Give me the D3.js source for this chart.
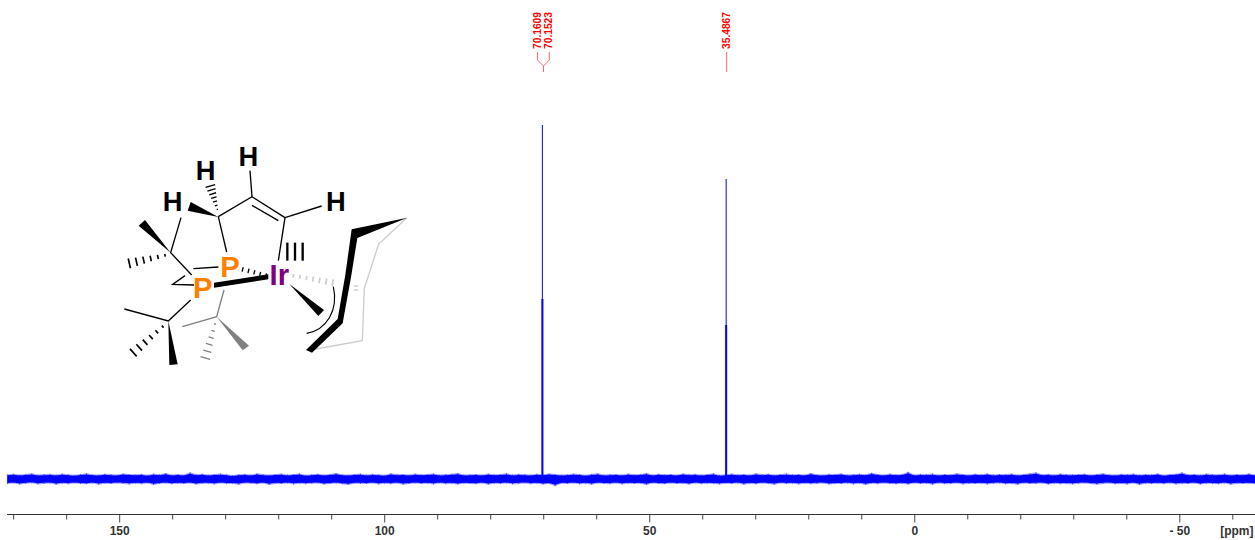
<!DOCTYPE html>
<html><head><meta charset="utf-8">
<script src="https://cdn.jsdelivr.net/npm/d3@7"></script>
<style>html,body{margin:0;padding:0;background:#fff}svg{display:block}text{font-family:"Liberation Sans",Arial,sans-serif}</style>
</head><body><svg id="c" width="1255" height="540"></svg>
<script>
// ---- data ----
const peakPpm = [70.1609, 70.1523, 35.4867, 35.4867];
const peakIntensity = [354, 180, 300, 154];
const peakLabels = ["70.1609", "70.1523", "35.4867"];
const majorTicks = [150, 100, 50, 0, -50];
const majorLabels = ["150", "100", "50", "0", "- 50"];
const minorTicks = [170,160,140,130,120,110,90,80,70,60,40,30,20,10,-10,-20,-30,-40,-60];
const ppmLeft = 171.2, ppmRight = -64.3;
const noiseUpper = [
4.6,5.2,4.4,4.9,5.6,4.3,4.8,5.1,4.5,5.4,4.7,4.2,5.0,5.7,4.6,4.4,
5.2,4.8,4.3,5.5,4.9,4.6,5.1,4.2,5.3,4.7,5.8,4.5,5.0,4.4,6.6,4.8,
5.2,4.3,4.9,5.4,4.6,3.9,4.7,5.1,4.4,5.6,4.8,4.3,5.0,5.3,4.5,4.9,
5.5,4.2,4.7,5.2,4.4,5.0,5.8,4.6,4.3,4.9,5.3,4.5,5.1,4.7,4.2,5.6,
4.8,5.0,4.4,5.3,4.6,4.9,5.5,4.3,4.8,5.2,5.9,4.5,4.7,5.0,4.3,5.4,
4.6,4.9,5.7,4.4,5.1,4.8,4.3,5.2,4.6,5.5,5.0,4.4,4.7,5.3,4.9,4.2,
5.1,5.6,4.5,4.8,5.0,4.3,5.4,4.7,4.9,5.8,4.4,5.2,4.6,5.0,4.3,5.5,
4.8,5.1,4.5,4.9,5.7,4.2,4.7,5.3,4.6,5.0,4.4,5.6,4.8,5.2,4.3,4.9,
5.4,4.6,5.0,4.5,5.8,4.7,4.3,5.1,4.9,5.5,4.4,4.8,5.2,4.6,6.2,5.0,
4.4,5.3,4.7,4.9,7.2,4.5,5.1,4.8,5.4,4.3,5.0,4.6,5.6,4.9,4.4,5.2,
4.7,5.5,4.5,5.0,4.8,5.3,4.3,4.9,5.7,6.6,4.6,5.1,4.4,5.4,4.8,4.6,
5.0,5.2,4.4,4.9,5.6,4.7,4.3,5.1,4.8,5.3,4.5,5.0,4.6,5.5,4.2,4.9,
5.2,6.6,4.7,5.0,4.4,5.3,4.8,4.6,5.4,4.3,5.0,4.7,5.5,4.5];
const noiseLower = [
-5.0,-4.4,-5.5,-4.7,-4.2,-5.3,-4.8,-4.5,-5.7,-4.6,-5.1,-4.3,-4.9,-5.2,-4.5,-5.6,
-4.7,-5.0,-4.4,-4.8,-5.4,-4.6,-5.1,-4.3,-5.8,-4.9,-4.5,-5.2,-4.7,-5.0,-4.4,-5.5,
-4.8,-4.6,-5.3,-4.3,-5.0,-4.9,-5.6,-4.5,-4.7,-5.2,-4.4,-5.9,-4.8,-5.0,-4.3,-5.4,
-4.6,-5.1,-4.7,-4.4,-5.5,-4.9,-4.5,-5.2,-5.8,-4.6,-4.8,-5.0,-4.3,-5.3,-4.7,-5.1,
-4.5,-5.6,-4.9,-4.4,-5.0,-4.7,-5.4,-4.3,-5.1,-4.8,-5.5,-4.6,-4.9,-5.2,-4.4,-5.7,
-4.7,-5.0,-4.5,-5.3,-4.8,-4.4,-5.1,-4.6,-5.5,-4.9,-7.2,-4.7,-5.0,-4.4,-5.2,-4.8,
-5.6,-4.5,-4.9,-5.1,-4.3,-5.4,-4.7,-5.0,-4.6,-5.8,-4.4,-4.9,-5.2,-4.5,-5.0,-4.8,
-5.5,-4.3,-5.1,-4.7,-4.9,-5.3,-4.6,-5.0,-4.4,-5.6,-4.8,-5.2,-4.5,-4.9,-5.7,-4.3,
-5.0,-4.7,-5.4,-4.6,-5.1,-4.8,-4.4,-5.5,-4.9,-5.0,-4.5,-5.3,-4.7,-5.8,-4.6,-5.1,
-4.4,-4.9,-5.2,-4.8,-5.5,-4.3,-5.0,-4.7,-5.6,-4.5,-5.1,-4.9,-4.4,-5.3,-4.8,-5.0,
-4.6,-5.4,-4.7,-4.3,-5.2,-4.9,-5.7,-4.5,-5.0,-4.8,-4.4,-5.5,-4.6,-5.1,-4.9,-5.3,
-4.7,-4.4,-5.0,-5.6,-4.8,-4.5,-5.2,-4.9,-5.4,-4.3,-5.8,-4.7,-5.0,-4.6,-5.1,-4.4,
-5.3,-4.8,-5.0,-4.5,-5.5,-4.7,-4.9,-5.2,-4.4,-5.6,-4.8,-5.0,-4.6,-5.2];

// ---- scales ----
const svg = d3.select("#c");
const x = d3.scaleLinear().domain([ppmLeft, ppmRight]).range([6.8, 1255.1]);
const y = d3.scaleLinear().domain([0, 354]).range([479, 125]);
const idx = d3.scaleLinear().domain([0, noiseUpper.length - 1]).range([ppmLeft - 0.12, ppmRight]);
const blue = "#0000ff", red = "#ff0000";

// ---- baseline noise band ----
const band = k => d3.area().curve(d3.curveLinear)
  .x((d,i) => x(idx(i)))
  .y0((d,i) => y(noiseLower[i] * k))
  .y1(d => y(d * k));
svg.append("path").attr("d", band(1.02)(noiseUpper)).attr("fill", blue).attr("opacity", .35);
svg.append("path").attr("d", band(.8)(noiseUpper)).attr("fill", blue);
svg.append("g").selectAll("line").data(noiseUpper).join("line")
  .attr("x1",(d,i)=>x(idx(i))).attr("x2",(d,i)=>x(idx(i)))
  .attr("y1",d=>y(d)).attr("y2",(d,i)=>y(noiseLower[i]))
  .attr("stroke",blue).attr("stroke-width",1).attr("opacity",.55);

// ---- peaks ----
const peakWidths = [1, 2, 1, 2];
svg.append("g").selectAll("line").data(peakPpm).join("line")
  .attr("x1", d => x(d)).attr("x2", d => x(d))
  .attr("y1", y(0)).attr("y2", (d,i) => y(peakIntensity[i]))
  .attr("stroke", blue).attr("stroke-width", (d,i) => peakWidths[i]);

// ---- peak labels and connectors ----
const labelX = [536.4, 548, 725.8];
const lab = svg.append("g");
peakLabels.forEach((t,i) => {
  lab.append("text").attr("transform", `translate(${labelX[i]+4.2},49) rotate(-90)`)
    .attr("font-size", 11.2).attr("font-weight", 700).attr("fill", red)
    .attr("textLength", 37).attr("lengthAdjust", "spacingAndGlyphs").text(t);
});
const linkX = [537.5, 549.3, 726.7];
const conn = [[linkX[0],52],[linkX[0],60],[543.5,66],[543.5,72]];
const conn2 = [[linkX[1],52],[linkX[1],60],[543.5,66]];
const conn3 = [[linkX[2],52],[linkX[2],72]];
[conn, conn2, conn3].forEach(c => svg.append("path").attr("d", d3.line()(c))
  .attr("fill","none").attr("stroke","#ff6666").attr("stroke-width",1));

// ---- axis ----
const axisMinor = d3.axisBottom(x).tickValues(minorTicks).tickSize(5).tickFormat("");
const axisMajor = d3.axisBottom(x).tickValues(majorTicks).tickSize(8).tickPadding(4)
  .tickFormat((d,i) => majorLabels[i]);
const gm = svg.append("g").attr("transform","translate(0,514.5)").call(axisMinor);
const gM = svg.append("g").attr("transform","translate(0,514.5)").call(axisMajor);
[gm,gM].forEach(g => {
  g.select(".domain").remove();
  g.selectAll(".tick line").attr("stroke","#444").attr("stroke-width",1);
});
gM.selectAll(".tick text").attr("font-size",12).attr("font-weight",700).attr("fill","#333")
  .attr("font-family",'"Liberation Sans",Arial,sans-serif');
svg.append("line").attr("x1",7).attr("x2",1255).attr("y1",514.5).attr("y2",514.5)
  .attr("stroke","#333").attr("stroke-width",1);
svg.append("text").attr("x",1253.5).attr("y",535).attr("text-anchor","end")
  .attr("font-size",12).attr("font-weight",700).attr("fill","#333").text("[ppm]");

// ---- molecule inset (drawn in a 3x local frame) ----
const m = svg.append("g").attr("transform","translate(100,130) scale(0.33333)");
const seg = (pts,col,w) => m.append("path").attr("d", d3.line()(pts))
  .attr("fill","none").attr("stroke",col).attr("stroke-width",w)
  .attr("stroke-linejoin","miter");
const poly = (pts,col) => m.append("path").attr("d", d3.line()(pts)+"Z").attr("fill",col);
const hash = (a,b,n,w0,w1,col,sw) => {
  const dx=b[0]-a[0],dy=b[1]-a[1],L=Math.hypot(dx,dy),nx=-dy/L,ny=dx/L;
  for(let i=0;i<n;i++){const t=i/(n-1),px=a[0]+dx*t,py=a[1]+dy*t,h=(w0+(w1-w0)*t)/2;
    seg([[px-nx*h,py-ny*h],[px+nx*h,py+ny*h]],col,sw);}
};
const K="#000", G="#808080", L="#cccccc";
// light rear ring
seg([[920,264],[836,342],[793,475],[787,632],[630,660]],L,4);
// thin bonds
[[[355,260],[456,200],[555,263]],[[456,226],[535,272]],[[555,263],[665,228]],
 [[456,200],[450,122]],[[555,263],[535,392]],[[355,260],[380,366]],
 [[243,263],[212,368],[275,435]],[[280,416],[355,411]],[[255,437],[218,463],[282,465]],
 [[272,510],[205,573],[73,537]]].forEach(p=>seg(p,K,4));
seg([[372,480],[350,560],[247,590]],G,4);
// wedges
poly([[355,261],[272,216],[263,242]],K);
poly([[212,368],[135,270],[116,287]],K);
poly([[205,573],[208,705],[233,703]],K);
poly([[568,462],[672,540],[655,558]],K);
poly([[350,560],[447,647],[428,661]],G);
// hashed bonds
hash([352,238],[331,168],7,4,30,K,4);
hash([195,376],[88,400],6,8,30,K,5);
hash([188,590],[100,668],6,8,30,K,5);
hash([345,582],[316,684],6,6,30,G,4);
hash([428,418],[498,436],5,14,12,K,4);
hash([580,437],[698,458],7,10,20,L,5);
hash([768,468],[768,480],2,14,14,L,4);
// thick bonds
poly([[342,458],[505,433],[505,448],[342,473]],K);
poly([[618,660],[713,567],[736,434],[755,298],[922,263],[772,324],[754,436],[728,580],[636,668]],K);
// Ir triple marks
[562,585,608].forEach(xx=>seg([[xx,338],[xx,392]],K,7));
// arc
m.append("path").attr("d","M700,470 C716,540 680,600 620,610").attr("fill","none").attr("stroke",K).attr("stroke-width",3.5);
// atom labels
const atom = (t,cx,cy,col,fs) => m.append("text").attr("x",cx).attr("y",cy+fs*0.358)
  .attr("text-anchor","middle").attr("font-size",fs).attr("font-weight",700).attr("fill",col).text(t);
atom("H",445,78,K,82); atom("H",317,120,K,82); atom("H",218,215,K,82); atom("H",708,215,K,82);
atom("P",390,410,"#ff8000",88); atom("P",308,473,"#ff8000",88);
atom("Ir",538,433,"#800080",88);
</script></body></html>
